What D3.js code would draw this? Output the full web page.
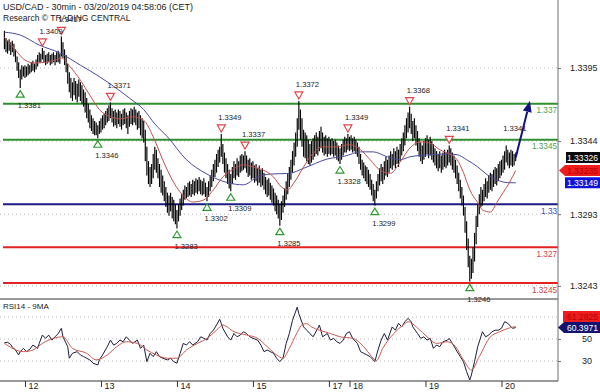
<!DOCTYPE html>
<html>
<head>
<meta charset="utf-8">
<script src="https://cdn.jsdelivr.net/npm/d3@7"></script>
<style>
  body { margin: 0; background: #fff; }
  svg { display: block; font-family: "Liberation Sans", Arial, sans-serif; }
</style>
</head>
<body>
<svg id="chart" width="600" height="392"></svg>
<script>
// 30 min bars as [high, low], in pips above 1.3200
const day11 = [[221,208],[216,206],[214,205],[215,207],[213,204],[214,206],[212,203],[208,199],[203,193],[199,188],[194,181],[197,187],[196,189]];
const day12 = [[197,188],[196,189],[198,190],[197,191],[199,192],[200,193],[198,192],[201,194],[204,196],[206,199],[205,199],[209,201],
  [207,199],[204,197],[205,198],[206,199],[204,197],[205,198],[206,199],[204,197],[206,199],[207,199],[205,198],[217,203],
  [213,202],[208,197],[204,192],[198,184],[192,178],[188,174],[185,172],[188,176],[186,173],[184,171],[187,175],[185,172],
  [183,170],[180,168],[178,164],[174,160],[170,157],[166,153],[162,151],[160,149],[158,148],[157,148],[155,146],[158,149]];
const day13 = [[160,150],[162,152],[163,153],[165,155],[167,157],[169,158],[171,160],[167,157],[165,154],[166,155],[164,153],[166,156],
  [165,154],[163,152],[166,155],[167,156],[164,153],[162,149],[165,154],[167,156],[166,155],[168,157],[166,155],[164,152],
  [165,153],[162,148],[160,146],[158,143],[152,130],[140,120],[130,114],[126,112],[128,114],[135,118],[140,124],[138,122],
  [132,118],[128,112],[124,108],[120,106],[116,102],[112,98],[108,94],[106,92],[108,95],[105,90],[103,88],[100,86]];
const day14 = [[96,83],[100,88],[104,92],[107,96],[110,99],[113,103],[112,104],[115,105],[116,106],[114,105],[117,107],[116,106],
  [118,108],[117,107],[119,109],[117,107],[116,106],[118,107],[115,105],[112,102],[116,105],[120,109],[124,112],[128,116],
  [131,119],[135,122],[138,126],[140,129],[149,133],[142,128],[136,122],[132,118],[128,114],[124,111],[121,109],[126,114],
  [130,118],[128,117],[132,120],[130,119],[134,122],[135,123],[134,124],[137,125],[134,122],[131,119],[132,120],[129,117]];
const day15 = [[130,118],[127,115],[128,116],[125,113],[127,115],[124,112],[125,113],[122,110],[119,107],[117,105],[118,106],[115,103],
  [113,101],[111,99],[108,95],[106,93],[103,90],[100,85],[102,89],[106,94],[111,98],[116,103],[121,107],[126,112],
  [131,117],[137,122],[143,127],[150,133],[160,140],[172,152],[166,145],[160,140],[152,133],[150,132],[148,130],[145,128],
  [142,127],[144,129],[146,131],[148,133],[150,135],[147,134],[151,137],[154,139],[150,136],[147,134],[148,135],[146,133]];
const day17 = [[147,135],[145,134],[146,135],[144,133],[145,134],[143,131],[141,130],[139,128],[142,131],[145,134],[147,136],[146,136],[149,138]];
const day18 = [[147,137],[148,138],[146,136],[147,137],[145,135],[143,133],[140,128],[135,124],[131,120],[129,118],[127,116],[126,114],
  [124,112],[121,110],[117,106],[114,102],[110,99],[116,104],[121,109],[125,113],[128,116],[126,114],[130,117],[133,120],
  [131,119],[134,122],[137,125],[135,124],[139,127],[137,125],[140,128],[138,126],[142,130],[146,134],[150,137],[155,141],
  [160,146],[164,150],[168,153],[163,149],[158,144],[160,146],[155,141],[151,137],[146,133],[143,130],[141,128],[144,131]];
const day19 = [[146,133],[148,135],[145,132],[147,134],[144,131],[142,129],[139,127],[137,125],[135,123],[137,125],[134,122],[136,124],
  [138,126],[136,125],[138,127],[141,129],[139,127],[136,124],[134,122],[131,118],[127,114],[122,109],[117,104],[112,99],
  [106,92],[98,80],[88,68],[76,56],[64,46],[62,48],[70,52],[80,60],[92,72],[100,84],[107,93],[112,98],
  [110,99],[114,102],[118,105],[116,104],[120,108],[122,110],[121,109],[124,112],[126,114],[125,113],[128,116],[130,118]];
const day20 = [[131,120],[134,122],[137,124],[141,129],[138,127],[136,125],[138,127],[137,126],[135,127],[136,130]];

// moving averages on price, [bar, pips above 1.3200]
const redMA = [[0,216.5],[7,207.5],[13,200.5],[19,198.5],[26,199],[32,200.5],[36,202],[41,196.5],[48,186.5],[54,176],[60,166],
  [67,161],[73,159.5],[81,161],[88,158.5],[94,147],[100,131],[107,115],[113,106],[119,101.5],[126,103],[132,110],[138,119],
  [144,124],[151,127.5],[157,126],[163,124],[170,119],[175,112],[179,110],[183,115],[189,126],[195,135.5],[201,140],[210,140],
  [218,141.5],[225,138],[231,131],[237,124],[244,121.5],[250,129.5],[256,139],[263,143.5],[269,142.5],[275,138],[282,134.5],
  [286,131],[290,122],[294,110],[299,101],[302,96],[307,94.5],[311,101],[315,108],[319,115],[323,123.5]];
const blueMA = [[0,220],[10,218],[22,211],[35,205.5],[48,197],[60,189],[73,179],[79,174],[88,166],[95,156],[103,147],[115,131],
  [128,121],[141,115],[151,113.5],[160,119],[168,121],[180,121.5],[189,125],[204,131.5],[215,133.5],[225,136.5],[233,136.5],
  [242,133],[250,131],[256,133],[269,134.5],[280,135],[286,134.5],[292,131],[299,126],[305,120.5],[311,117],[318,115],[323,114.9]];

// RSI14 and its 9MA, [bar, value]
const rsi = [[0,46.5],[2,47],[4,45],[5,42.7],[7,40],[9,35.5],[10,38.5],[12,41.5],[14,38.5],[16,40.6],[18,44.5],[21,41.5],[22,46],
  [24,53.6],[26,50.6],[28,53.6],[30,49],[32,52],[34,55],[36,59.7],[37,52],[40,43],[41,32.5],[43,37],[46,38.5],[48,35.5],[50,34],
  [52,32.5],[54,31],[56,28],[59,26.4],[60,31],[62,35.5],[65,43],[67,49],[69,44.5],[71,46],[73,49],[75,47.5],[77,52],[79,49],
  [81,46],[84,49],[86,41.5],[88,44.5],[90,29.4],[92,37],[94,34],[96,38.5],[98,34],[100,32.5],[103,31],[105,32.5],[107,29.4],
  [109,28],[111,37],[113,46],[115,44.5],[117,47.5],[119,44.5],[122,47.5],[124,52],[126,50.6],[128,49],[130,55],[132,58],
  [134,62.7],[136,67.9],[137,64.3],[138,59.7],[141,52],[143,49],[145,55],[147,52],[149,53.6],[151,56.6],[153,55],[155,52],
  [157,50.6],[160,49],[162,44.5],[164,38.5],[166,40],[168,38.5],[170,37],[172,32.5],[174,29.4],[176,32.5],[178,46],[180,55],
  [182,67],[185,79],[186,73],[189,61],[191,58],[193,55],[195,52],[198,59.7],[199,62.7],[201,52],[204,55],[206,49],[208,50.6],
  [210,47.5],[212,46],[214,49],[216,55],[218,56.6],[220,50.6],[223,46],[225,38.5],[227,37],[229,35.5],[231,34],[233,31],
  [234,29.4],[236,40],[238,49],[240,55],[242,49],[245,61],[247,58],[249,64.3],[251,61],[253,65.7],[255,68.8],[257,65.7],
  [258,61],[261,55],[263,50.6],[265,52],[267,49],[269,50.6],[271,41.5],[273,44.5],[275,43],[277,47.5],[280,49],[281,50.6],
  [283,46],[286,38.5],[288,34],[290,29.4],[292,20.3],[294,12.7],[295,17.3],[297,29.4],[299,43],[302,56.6],[304,52],[306,53.6],
  [308,56.6],[310,58],[312,58],[314,59.7],[316,65.7],[318,64.3],[321,59.7],[323,60.3971]];
const rsiMA = [[0,46],[12,38.5],[18,40],[24,46],[31,50.6],[37,52],[43,41.5],[52,37],[58,31],[65,35.5],[71,43],[77,47.5],[84,46],
  [90,40],[96,35.5],[103,32.5],[109,32.5],[115,40],[122,46],[128,50.6],[134,58],[138,62.7],[145,56.6],[153,53.6],[160,50.6],
  [166,43],[172,35.5],[176,32.5],[180,41.5],[185,56],[188,63],[191,64],[194,61],[199,58],[206,55],[212,52],[220,50.6],[227,43],
  [232,34],[235,30.3],[239,41.5],[246,55],[252,62.7],[255,65.7],[261,60],[267,52],[273,46],[280,47.5],[285,43],[290,31],
  [295,21.8],[300,34],[307,52],[313,56.6],[319,60],[323,61.2825]];

const dayNames = ["12", "13", "14", "15", "17", "18", "19", "20"];
const dayFirstBar = [13, 61, 109, 157, 205, 218, 266, 314];

const levelValues = [1.337, 1.3345, 1.33, 1.327, 1.3245];
const levelNames = ["1.337", "1.3345", "1.33", "1.327", "1.3245"];
const levelKinds = ["res", "res", "pivot", "sup", "sup"];

const priceTicks = [1.3395, 1.3344, 1.3293, 1.3243];
const rsiGrid = [30, 50, 70];
const rsiTicks = [30, 50];

const highMarks = [[24,"1.3409"],[36,"1.3417"],[67,"1.3371"],[137,"1.3349"],[152,"1.3337"],[186,"1.3372"],[217,"1.3349"],[256,"1.3368"],[281,"1.3341"]];
const lowMarks = [[10,"1.3381"],[59,"1.3346"],[109,"1.3283"],[128,"1.3302"],[143,"1.3309"],[174,"1.3285"],[212,"1.3328"],[234,"1.3299"],[294,"1.3246"]];
const lastHigh = [317, "1.3341"];

const lastClose = 1.33326, lastRed = 1.33235, lastBlue = 1.33149;
const lastRsi = 60.3971, lastRsiMA = 61.2825;
const forecast = [[323, 1.33326], [332, 1.3372]];

const bars = [...day11, ...day12, ...day13, ...day14, ...day15, ...day17, ...day18, ...day19, ...day20];
const px = p => 1.32 + p / 10000;

const colors = {
  res: "#2f8f2f", pivot: "#1c1c86", sup: "#e52222",
  resText: "#4f9f4f", pivotText: "#4050b0", supText: "#d04040",
  redMA: "#c0504d", blueMA: "#4b4b9e", rsi: "#1c1c3c", rsiMA: "#c85a50",
  grid: "#b8b8b8", axis: "#707070"
};

const svg = d3.select("#chart");
const right = 558;

const x = d3.scaleLinear().domain([0, bars.length - 1]).range([4.4, 515.7]);
const y = d3.scaleLinear().domain([1.3245, 1.3395]).range([283, 68]);
const yR = d3.scaleLinear().domain([30, 50]).range([361, 339]);

// dotted grid
svg.append("g").selectAll("line").data(priceTicks).join("line")
  .attr("x1", 0).attr("x2", right).attr("y1", d => y(d)).attr("y2", d => y(d))
  .attr("stroke", colors.grid).attr("stroke-dasharray", "1,3");
svg.append("g").selectAll("line").data(rsiGrid).join("line")
  .attr("x1", 0).attr("x2", right).attr("y1", d => yR(d)).attr("y2", d => yR(d))
  .attr("stroke", colors.grid).attr("stroke-dasharray", "1,3");

// support / resistance levels
svg.append("g").selectAll("line").data(levelValues).join("line")
  .attr("x1", 3).attr("x2", right).attr("y1", d => y(d)).attr("y2", d => y(d))
  .attr("stroke", (d, i) => colors[levelKinds[i]]).attr("stroke-width", 2);
svg.append("g").selectAll("text").data(levelValues).join("text")
  .attr("x", right - 1).attr("y", d => y(d) + 9.5)
  .attr("text-anchor", "end").attr("font-size", 8.2)
  .attr("fill", (d, i) => colors[levelKinds[i] + "Text"])
  .text((d, i) => levelNames[i]);

// price bars
svg.append("g").selectAll("line").data(bars).join("line")
  .attr("x1", (d, i) => x(i)).attr("x2", (d, i) => x(i))
  .attr("y1", d => y(px(d[0]))).attr("y2", d => y(px(d[1])))
  .attr("stroke", "#000").attr("stroke-width", 1.15);

// moving averages
const maLine = d3.line().x(d => x(d[0])).y(d => y(px(d[1]))).curve(d3.curveMonotoneX);
svg.append("path").attr("d", maLine(blueMA)).attr("fill", "none").attr("stroke", colors.blueMA).attr("stroke-width", 1);
svg.append("path").attr("d", maLine(redMA)).attr("fill", "none").attr("stroke", colors.redMA).attr("stroke-width", 1);

// swing markers
const hm = svg.append("g");
hm.selectAll("path").data(highMarks).join("path")
  .attr("d", d => {
    const cx = x(d[0]), t = y(+d[1]) - 9;
    return `M${cx - 4},${t}L${cx + 4},${t}L${cx},${t + 7}Z`;
  })
  .attr("fill", "#fff").attr("stroke", "#e0474c").attr("stroke-width", 1.2);
hm.selectAll("text").data([...highMarks, lastHigh]).join("text")
  .attr("x", d => x(d[0]) - 3).attr("y", d => y(+d[1]) - 14)
  .attr("font-size", 7.6).attr("fill", "#222").text(d => d[1]);

const lm = svg.append("g");
lm.selectAll("path").data(lowMarks).join("path")
  .attr("d", d => {
    const cx = x(d[0]), t = y(+d[1]) + 2.5;
    return `M${cx},${t}L${cx + 4},${t + 6.5}L${cx - 4},${t + 6.5}Z`;
  })
  .attr("fill", "#fff").attr("stroke", "#2f9a2f").attr("stroke-width", 1.2);
lm.selectAll("text").data(lowMarks).join("text")
  .attr("x", d => x(d[0]) - 2.5).attr("y", d => y(+d[1]) + 20)
  .attr("font-size", 7.6).attr("fill", "#222").text(d => d[1]);

// forecast arrow
const fx = forecast.map(d => [x(d[0]), y(d[1])]);
const ang = Math.atan2(fx[1][1] - fx[0][1], fx[1][0] - fx[0][0]);
const tip = fx[1];
const back = [tip[0] - 11 * Math.cos(ang), tip[1] - 11 * Math.sin(ang)];
svg.append("line")
  .attr("x1", fx[0][0]).attr("y1", fx[0][1]).attr("x2", back[0]).attr("y2", back[1])
  .attr("stroke", "#14147e").attr("stroke-width", 2);
svg.append("path")
  .attr("d", `M${tip[0]},${tip[1]}L${back[0] + 4.5 * Math.sin(ang)},${back[1] - 4.5 * Math.cos(ang)}L${back[0] - 4.5 * Math.sin(ang)},${back[1] + 4.5 * Math.cos(ang)}Z`)
  .attr("fill", "#14147e");

// header
svg.append("text").attr("x", 3).attr("y", 9.5).attr("font-size", 9).attr("fill", "#222")
  .text("USD/CAD - 30min - 03/20/2019 04:58:06 (CET)");
svg.append("text").attr("x", 3).attr("y", 20.5).attr("font-size", 8.5).attr("fill", "#222")
  .text("Research \u00a9 TRADING CENTRAL");

// RSI panel
svg.append("line").attr("x1", 0).attr("x2", right).attr("y1", 299).attr("y2", 299).attr("stroke", "#333");
svg.append("line").attr("x1", 0).attr("x2", right).attr("y1", 381).attr("y2", 381).attr("stroke", "#333");
const rLine = d3.line().x(d => x(d[0])).y(d => yR(d[1]));
svg.append("path").attr("d", rLine(rsi)).attr("fill", "none").attr("stroke", colors.rsi).attr("stroke-width", 1);
svg.append("path").attr("d", rLine.curve(d3.curveMonotoneX)(rsiMA)).attr("fill", "none").attr("stroke", colors.rsiMA).attr("stroke-width", 1);
svg.append("text").attr("x", 3).attr("y", 308.5).attr("font-size", 8).attr("fill", "#222").text("RSI14 - 9MA");

// right price axis
svg.append("line").attr("x1", right).attr("x2", right).attr("y1", 0).attr("y2", 381).attr("stroke", colors.axis);
const pAxis = svg.append("g").attr("transform", `translate(${right},0)`)
  .call(d3.axisRight(y).tickValues(priceTicks).tickFormat(d3.format(".4f")).tickSize(3).tickPadding(9));
pAxis.select(".domain").remove();
pAxis.selectAll("line").attr("stroke", colors.axis);
pAxis.selectAll("text").attr("font-size", 9).attr("font-family", "Liberation Sans, Arial, sans-serif").attr("fill", "#222");

const rAxis = svg.append("g").attr("transform", `translate(${right},0)`)
  .call(d3.axisRight(yR).tickValues(rsiTicks).tickSize(3).tickPadding(21));
rAxis.select(".domain").remove();
rAxis.selectAll("line").attr("stroke", colors.axis);
rAxis.selectAll("text").attr("font-size", 9).attr("font-family", "Liberation Sans, Arial, sans-serif").attr("fill", "#222");

// value boxes
function box(cy, label, bg, fg, arrow, x0) {
  const h = 11, l = x0;
  const d = arrow
    ? `M${l},${cy}L${l + 6},${cy - h / 2}L600,${cy - h / 2}L600,${cy + h / 2}L${l + 6},${cy + h / 2}Z`
    : `M${l},${cy - h / 2}L600,${cy - h / 2}L600,${cy + h / 2}L${l},${cy + h / 2}Z`;
  svg.append("path").attr("d", d).attr("fill", bg);
  svg.append("text").attr("x", 598).attr("y", cy + 3.3).attr("text-anchor", "end")
    .attr("font-size", 8.6).attr("fill", fg).text(label);
}
box(y(lastClose), lastClose.toFixed(5), "#0a0a0a", "#fff", false, 566);
box(y(lastRed), lastRed.toFixed(5), "#ee1d1d", "#b80000", true, 559);
box(y(lastBlue), lastBlue.toFixed(5), "#1014d8", "#fff", false, 565);
const rsiY = yR(lastRsi);
let maY = yR(lastRsiMA);
if (Math.abs(maY - rsiY) < 11) maY = rsiY - 11;
box(maY, lastRsiMA.toFixed(4), "#ee1d1d", "#b80000", false, 563);
box(rsiY, lastRsi.toFixed(4), "#14146e", "#fff", true, 558);

// day axis
const dAxis = svg.append("g").attr("transform", "translate(0,381)")
  .call(d3.axisBottom(x).tickValues(dayFirstBar).tickSize(6).tickFormat((d, i) => dayNames[i]));
dAxis.select(".domain").remove();
dAxis.selectAll("line").attr("stroke", "#333");
dAxis.selectAll("text").attr("text-anchor", "start").attr("x", 3).attr("y", 2).attr("dy", "0.71em")
  .attr("font-size", 9).attr("font-family", "Liberation Sans, Arial, sans-serif").attr("fill", "#222");
</script>
</body>
</html>
